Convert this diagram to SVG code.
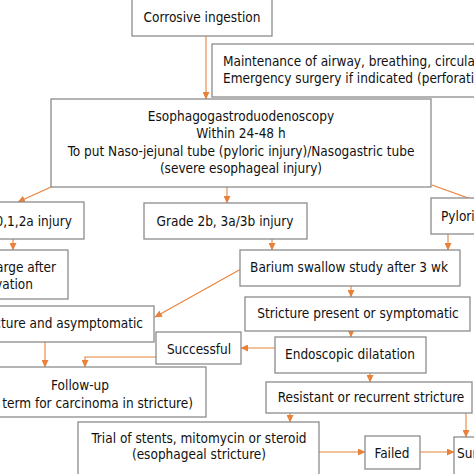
<svg xmlns="http://www.w3.org/2000/svg" width="474" height="474" viewBox="0 0 474 474">
<style>
.box{fill:#fff;stroke:#8c8c8c;stroke-width:1.3}
.t{font-family:"DejaVu Sans Condensed","DejaVu Sans",sans-serif;font-size:13.5px;fill:#111}
.c{text-anchor:middle}
.e{text-anchor:end}
.con{fill:none;stroke:#e8823a;stroke-width:1.1}
</style>
<defs>
<marker id="ah" markerUnits="userSpaceOnUse" markerWidth="8" markerHeight="7" refX="7" refY="3.5" orient="auto">
<path d="M0,0 L7.5,3.5 L0,7 z" fill="#e8823a"/>
</marker>
</defs>
<rect width="474" height="474" fill="#fff"/>
<g id="connectors">
<path class="con" marker-end="url(#ah)" d="M206,36 V99"/>
<path class="con" marker-end="url(#ah)" d="M51,187 L18,202"/>
<path class="con" marker-end="url(#ah)" d="M227,187 V203"/>
<path class="con" d="M432,185 L490,206"/>
<path class="con" marker-end="url(#ah)" d="M13,239 V250"/>
<path class="con" marker-end="url(#ah)" d="M272,239 V250"/>
<path class="con" marker-end="url(#ah)" d="M448,234 V250"/>
<path class="con" marker-end="url(#ah)" d="M241,269 L155,317"/>
<path class="con" marker-end="url(#ah)" d="M351,286 V297"/>
<path class="con" marker-end="url(#ah)" d="M351,331 V337"/>
<path class="con" marker-end="url(#ah)" d="M275,348 H241"/>
<path class="con" marker-end="url(#ah)" d="M156,357 H85 V367"/>
<path class="con" marker-end="url(#ah)" d="M45,342 V367"/>
<path class="con" marker-end="url(#ah)" d="M370,373 V382"/>
<path class="con" marker-end="url(#ah)" d="M290,413 V422"/>
<path class="con" marker-end="url(#ah)" d="M466,413 V437"/>
<path class="con" marker-end="url(#ah)" d="M319,452 H365"/>
<path class="con" marker-end="url(#ah)" d="M420,452 H454"/>
</g>
<g id="corrosive"><rect class="box" x="132" y="-5" width="140" height="41"/><text class="t c" x="202" y="22">Corrosive ingestion</text></g>
<g id="maintenance"><rect class="box" x="212" y="44" width="280" height="53"/><text class="t" x="223" y="66">Maintenance of airway, breathing, circulation</text><text class="t" x="223" y="83">Emergency surgery if indicated (perforation)</text></g>
<g id="egd"><rect class="box" x="51" y="99" width="380" height="88"/>
<text class="t c" x="241" y="121">Esophagogastroduodenoscopy</text>
<text class="t c" x="241" y="138">Within 24-48 h</text>
<text class="t c" x="241" y="156">To put Naso-jejunal tube (pyloric injury)/Nasogastric tube</text>
<text class="t c" x="241" y="173">(severe esophageal injury)</text></g>
<g id="grade0"><rect class="box" x="-20" y="202" width="104" height="37"/><text class="t e" x="72" y="226">Grade 0,1,2a injury</text></g>
<g id="grade2b"><rect class="box" x="144" y="203" width="163" height="36"/><text class="t c" x="225" y="226">Grade 2b, 3a/3b injury</text></g>
<g id="pyloric"><rect class="box" x="431" y="198" width="60" height="36"/><text class="t" x="441" y="221">Pyloric injury</text></g>
<g id="discharge"><rect class="box" x="-40" y="250" width="108" height="49"/><text class="t e" x="56" y="272">Discharge after</text><text class="t e" x="33" y="289">observation</text></g>
<g id="barium"><rect class="box" x="240" y="250" width="220" height="36"/><text class="t c" x="349" y="272">Barium swallow study after 3 wk</text></g>
<g id="nostricture"><rect class="box" x="-20" y="306" width="174" height="36"/><text class="t e" x="143" y="328">No stricture and asymptomatic</text></g>
<g id="stricture"><rect class="box" x="245" y="297" width="225" height="34"/><text class="t c" x="358" y="318">Stricture present or symptomatic</text></g>
<g id="successful"><rect class="box" x="156" y="332" width="85" height="32"/><text class="t c" x="199" y="354">Successful</text></g>
<g id="endoscopic"><rect class="box" x="275" y="337" width="151" height="36"/><text class="t c" x="350" y="359">Endoscopic dilatation</text></g>
<g id="followup"><rect class="box" x="-40" y="367" width="246" height="50"/><text class="t c" x="80" y="390">Follow-up</text><text class="t e" x="193" y="408">(Long term for carcinoma in stricture)</text></g>
<g id="resistant"><rect class="box" x="266" y="382" width="206" height="31"/><text class="t c" x="371" y="402">Resistant or recurrent stricture</text></g>
<g id="trial"><rect class="box" x="78" y="422" width="241" height="60"/><text class="t c" x="199" y="443">Trial of stents, mitomycin or steroid</text><text class="t c" x="199" y="459">(esophageal stricture)</text></g>
<g id="failed"><rect class="box" x="365" y="436" width="55" height="33"/><text class="t c" x="392" y="458">Failed</text></g>
<g id="surgery"><rect class="box" x="454" y="437" width="40" height="45"/><text class="t" x="457" y="458">Surgery</text></g>
</svg>
